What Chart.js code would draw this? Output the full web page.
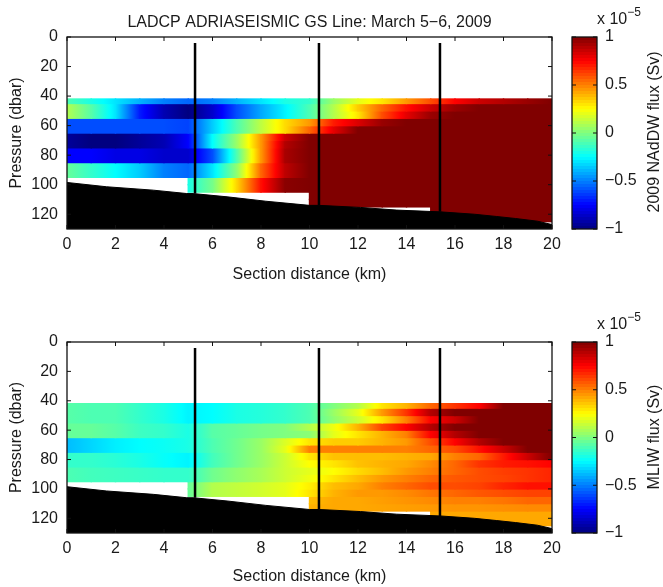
<!DOCTYPE html>
<html>
<head>
<meta charset="utf-8">
<title>LADCP ADRIASEISMIC GS Line</title>
<script src="https://cdn.jsdelivr.net/npm/chart.js@4/dist/chart.umd.min.js"></script>
<style>
  body { margin: 0; background: #fff; font-family: "Liberation Sans", sans-serif; color: #1a1a1a; }
  canvas { position: absolute; }
  .note { position: absolute; font-size: 16px; white-space: nowrap; }
  .note sup { font-size: 12px; position: relative; top: -2px; vertical-align: super; line-height: 0; }
  .side { position: absolute; font-size: 16px; white-space: nowrap; transform: translate(-50%, -50%) rotate(-90deg); }
</style>
</head>
<body>
<canvas id="topChart" width="565" height="290" style="left:0;top:0"></canvas>
<canvas id="topBar" width="103" height="290" style="left:560px;top:0"></canvas>
<canvas id="lowChart" width="565" height="282" style="left:0;top:305px"></canvas>
<canvas id="lowBar" width="103" height="282" style="left:560px;top:305px"></canvas>
<div class="note" style="left:597px;top:10px">x 10<sup>−5</sup></div>
<div class="note" style="left:597px;top:315px">x 10<sup>−5</sup></div>
<div class="side" style="left:654px;top:132px">2009 NAdDW flux (Sv)</div>
<div class="side" style="left:654px;top:437px">MLIW flux (Sv)</div>
<script>
const titleText = 'LADCP ADRIASEISMIC GS Line: March 5\u22126, 2009';

// section distance of the grid nodes (km)
const distances = [0, 1, 2, 3, 4, 5, 6, 7, 8, 9, 10, 11, 12, 13, 14, 15, 16, 17, 18, 19, 20];
// edges of the pressure bins (dbar)
const pressureEdges = [42, 45, 50, 55, 60, 65, 70, 75, 80, 85, 90, 95, 100, 105, 110, 115, 120, 125];

// flux in units of 1e-5 Sv, one line per pressure bin, one value per distance node
const _ = null;
const nadwFlux = [
  [-.1, -.2, -.3, -.4, -.5, -.55, -.5, -.4, -.3, -.2, -.15, .05, .2, .3, .45, .6, .75, .85, .9, .95, 1],
  [.1, -.08, -.3, -.7, -.9, -1, -.85, -.6, -.42, -.27, -.1, .1, .35, .55, .72, .85, .95, 1, 1, 1, 1],
  [.1, -.08, -.3, -.7, -.9, -1, -.85, -.6, -.42, -.27, -.1, .1, .3, .6, .8, .95, 1, 1, 1, 1, 1],
  [-.6, -.6, -.6, -.6, -.6, -.62, -.35, -.1, .12, .32, .45, .7, .82, .95, 1, 1, 1, 1, 1, 1, 1],
  [-.6, -.6, -.6, -.6, -.6, -.62, -.35, -.1, .12, .32, .55, .8, 1, 1, 1, 1, 1, 1, 1, 1, 1],
  [-.95, -1, -1, -.95, -.9, -.75, -.25, .05, .45, .85, 1, 1, 1, 1, 1, 1, 1, 1, 1, 1, 1],
  [-.95, -1, -1, -.95, -.9, -.75, -.25, .05, .45, .9, 1, 1, 1, 1, 1, 1, 1, 1, 1, 1, 1],
  [-.75, -.75, -.8, -.8, -.85, -.85, -.6, -.1, .45, .92, 1, 1, 1, 1, 1, 1, 1, 1, 1, 1, 1],
  [-.75, -.75, -.8, -.8, -.85, -.85, -.6, -.1, .45, .92, 1, 1, 1, 1, 1, 1, 1, 1, 1, 1, 1],
  [-.05, -.15, -.25, -.35, -.5, -.55, -.3, .03, .55, .88, 1, 1, 1, 1, 1, 1, 1, 1, 1, 1, 1],
  [-.05, -.15, -.25, -.35, -.5, -.55, -.3, .03, .55, .88, 1, 1, 1, 1, 1, 1, 1, 1, 1, 1, 1],
  [_, _, _, _, _, -.2, -.02, .33, .72, .98, 1, 1, 1, 1, 1, 1, 1, 1, 1, 1, 1],
  [_, _, _, _, _, -.2, -.02, .33, .72, .98, 1, 1, 1, 1, 1, 1, 1, 1, 1, 1, 1],
  [_, _, _, _, _, _, _, _, _, _, 1, 1, 1, 1, 1, 1, 1, 1, 1, 1, 1],
  [_, _, _, _, _, _, _, _, _, _, 1, 1, 1, 1, 1, 1, 1, 1, 1, 1, 1],
  [_, _, _, _, _, _, _, _, _, _, _, _, _, _, _, 1, 1, 1, 1, 1, 1],
  [_, _, _, _, _, _, _, _, _, _, _, _, _, _, _, 1, 1, 1, 1, 1, 1]
];
const mliwFlux = [
  [-.08, -.1, -.1, -.15, -.2, -.27, -.25, -.2, -.18, -.15, -.1, 0, .1, .3, .4, .55, .65, .75, 1, 1, 1],
  [-.08, -.1, -.1, -.15, -.2, -.27, -.25, -.2, -.18, -.15, -.1, .05, .2, .45, .65, .9, 1, 1, 1, 1, 1],
  [-.08, -.1, -.1, -.15, -.2, -.27, -.25, -.2, -.18, -.15, -.1, .03, .15, .3, .5, .75, .85, 1, 1, 1, 1],
  [-.05, -.05, -.08, -.13, -.15, -.2, -.08, -.05, -.02, 0, .1, .22, .4, .62, .75, .9, 1, 1, 1, 1, 1],
  [-.05, -.05, -.08, -.13, -.15, -.2, -.08, -.05, -.02, 0, .02, .2, .3, .4, .5, .75, .9, 1, 1, 1, 1],
  [-.38, -.33, -.28, -.25, -.23, -.2, -.1, -.03, .05, .18, .3, .35, .35, .4, .45, .6, .75, .9, 1, 1, 1],
  [-.38, -.33, -.28, -.25, -.23, -.2, -.1, -.03, .05, .2, .5, .5, .5, .5, .5, .55, .6, .72, .85, 1, 1],
  [-.15, -.15, -.17, -.2, -.24, -.27, -.12, -.03, .05, .15, .3, .37, .38, .38, .4, .42, .5, .55, .7, .85, 1],
  [-.15, -.15, -.17, -.2, -.24, -.27, -.12, -.03, .05, .15, .25, .3, .37, .4, .42, .48, .55, .65, .7, .72, .75],
  [-.1, -.12, -.13, -.14, -.15, -.15, -.03, .03, .08, .15, .2, .25, .32, .38, .45, .5, .55, .6, .63, .65, .68],
  [-.1, -.12, -.13, -.14, -.15, -.15, -.03, .03, .08, .15, .22, .3, .38, .45, .5, .55, .58, .6, .62, .65, .68],
  [_, _, _, _, _, -.05, .1, .13, .16, .2, .28, .38, .42, .5, .55, .6, .6, .62, .68, .72, .72],
  [_, _, _, _, _, -.05, .1, .13, .16, .2, .3, .4, .45, .45, .48, .52, .55, .58, .6, .62, .62],
  [_, _, _, _, _, _, _, _, _, _, .38, .42, .42, .44, .46, .48, .5, .5, .52, .55, .55],
  [_, _, _, _, _, _, _, _, _, _, .4, .42, .42, .43, .44, .45, .46, .46, .47, .48, .48],
  [_, _, _, _, _, _, _, _, _, _, _, _, _, _, _, .42, .42, .42, .42, .42, .42],
  [_, _, _, _, _, _, _, _, _, _, _, _, _, _, _, .42, .42, .42, .42, .42, .42]
];

// sea floor
const floorDistance = [0, 1.63, 3.56, 4.94, 5.2, 6.6, 8.2, 10, 10.4, 12.1, 13.6, 15.4, 16.8, 17.7, 18.5, 19.4, 20];
const floorPressure = [98.5, 101.4, 103.7, 106, 106, 108.2, 111.2, 114, 114, 115.4, 117.2, 118.4, 120, 121.5, 122.9, 124.7, 127];

// the three vertical station lines
const stationDistance = [5.28, 10.39, 15.38];
const stationTop = [4, 4, 4];
const stationBottom = [106, 114, 118.4];

const pressureTicks = { min: 0, max: 130, step: 20 };
const distanceTicks = { min: 0, max: 20, step: 2 };
const colorRange = [-1, 1];

const fontFamily = '"Liberation Sans", sans-serif';
const textColor = '#1a1a1a';

Chart.defaults.font.family = fontFamily;
Chart.defaults.color = textColor;

// matlab jet, v from -1 to 1
function jet(v) {
  const t = (Math.max(-1, Math.min(1, v)) + 1) / 2;
  const ch = function (a) { return Math.round(255 * Math.max(0, Math.min(1, a))); };
  const r = ch(Math.min(4 * t - 1.5, -4 * t + 4.5));
  const g = ch(Math.min(4 * t - 0.5, -4 * t + 3.5));
  const b = ch(Math.min(4 * t + 0.5, -4 * t + 2.5));
  return 'rgb(' + r + ',' + g + ',' + b + ')';
}

// horizontal colour ramp for one cell, going through the colormap
function cellFill(context) {
  const cell = context.raw;
  if (!cell) return 'transparent';
  const xScale = context.chart.scales.x;
  const x0 = xScale.getPixelForValue(cell.x - 0.5);
  const x1 = xScale.getPixelForValue(cell.x + 0.5);
  if (!Number.isFinite(x0) || !Number.isFinite(x1)) return 'transparent';
  const grad = context.chart.ctx.createLinearGradient(x0, 0, x1, 0);
  for (let i = 0; i <= 10; i++) {
    grad.addColorStop(i / 10, jet(cell.from + (cell.to - cell.from) * i / 10));
  }
  return grad;
}

function rowDatasets(flux) {
  return flux.map(function (row, r) {
    const cells = [];
    for (let i = 0; i < distances.length - 1; i++) {
      if (row[i] === null || row[i + 1] === null) continue;
      cells.push({
        x: (distances[i] + distances[i + 1]) / 2,
        y: [pressureEdges[r], pressureEdges[r + 1]],
        from: row[i],
        to: row[i + 1]
      });
    }
    return {
      type: 'bar', data: cells, order: 3, grouped: false,
      categoryPercentage: 1, barPercentage: 1, borderWidth: 0, inflateAmount: 0.7,
      backgroundColor: cellFill
    };
  });
}

function lineDatasets() {
  const sets = [{
    type: 'line', order: 2,
    data: floorDistance.map(function (d, i) { return { x: d, y: floorPressure[i] }; }),
    borderColor: '#000', borderWidth: 1, pointRadius: 0, tension: 0,
    backgroundColor: '#000', fill: { value: pressureTicks.max }
  }];
  stationDistance.forEach(function (d, i) {
    sets.push({
      type: 'line', order: 1,
      data: [{ x: d, y: stationTop[i] }, { x: d, y: stationBottom[i] }],
      borderColor: '#000', borderWidth: 2.5, pointRadius: 0, fill: false
    });
  });
  return sets;
}

// box with inward ticks on all sides, like the original axes
const framePlugin = {
  id: 'frame',
  afterDraw: function (chart) {
    const c = chart.ctx, a = chart.chartArea, len = 4;
    c.save();
    c.strokeStyle = '#111';
    c.lineWidth = 1.3;
    c.strokeRect(a.left, a.top, a.right - a.left, a.bottom - a.top);
    c.lineWidth = 1;
    c.beginPath();
    if (chart.scales.x.options.display) {
      chart.scales.x.ticks.forEach(function (t) {
        const px = chart.scales.x.getPixelForValue(t.value);
        c.moveTo(px, a.bottom); c.lineTo(px, a.bottom - len);
        c.moveTo(px, a.top); c.lineTo(px, a.top + len);
      });
    }
    chart.scales.y.ticks.forEach(function (t) {
      const py = chart.scales.y.getPixelForValue(t.value);
      c.moveTo(a.left, py); c.lineTo(a.left + len, py);
      c.moveTo(a.right, py); c.lineTo(a.right - len, py);
    });
    c.stroke();
    c.restore();
  }
};

function noOverhang(s) {
  s.paddingLeft = 0; s.paddingRight = 0; s.paddingTop = 0; s.paddingBottom = 0;
}

function makePanel(id, flux, title, canvasHeight, areaBottom, xTitlePad) {
  return new Chart(document.getElementById(id), {
    data: { datasets: rowDatasets(flux).concat(lineDatasets()) },
    plugins: [framePlugin],
    options: {
      responsive: false,
      animation: false,
      layout: { padding: { top: title ? 0 : 37, right: 13, left: 0, bottom: 0 } },
      plugins: {
        legend: { display: false },
        tooltip: { enabled: false },
        title: {
          display: !!title, text: title, fullSize: false,
          font: { size: 16, weight: 'normal' }, color: textColor,
          padding: { top: 13, bottom: 4.8 }
        }
      },
      scales: {
        x: {
          type: 'linear', offset: false, min: distanceTicks.min, max: distanceTicks.max,
          afterFit: function (s) { s.height = canvasHeight - areaBottom; noOverhang(s); },
          grid: { display: false, drawTicks: false }, border: { display: false },
          ticks: { stepSize: distanceTicks.step, font: { size: 16 }, padding: 6, maxRotation: 0, color: textColor },
          title: { display: true, text: 'Section distance (km)', font: { size: 16 }, padding: { top: 0, bottom: xTitlePad }, color: textColor }
        },
        y: {
          type: 'linear', reverse: true, min: pressureTicks.min, max: pressureTicks.max,
          afterFit: function (s) { s.width = 67; noOverhang(s); },
          grid: { display: false, drawTicks: false }, border: { display: false },
          ticks: { stepSize: pressureTicks.step, includeBounds: false, font: { size: 16 }, padding: 9, color: textColor },
          title: { display: true, text: 'Pressure (dbar)', font: { size: 16 }, padding: { top: 7, bottom: 0 }, color: textColor }
        }
      }
    }
  });
}

function barFill(context) {
  const yScale = context.chart.scales.y;
  if (!yScale) return 'transparent';
  const y0 = yScale.getPixelForValue(colorRange[0]);
  const y1 = yScale.getPixelForValue(colorRange[1]);
  if (!Number.isFinite(y0) || !Number.isFinite(y1)) return 'transparent';
  const grad = context.chart.ctx.createLinearGradient(0, y0, 0, y1);
  const levels = 64;
  for (let i = 0; i < levels; i++) {
    const col = jet(colorRange[0] + (colorRange[1] - colorRange[0]) * (i + 0.5) / levels);
    grad.addColorStop(i / levels, col);
    grad.addColorStop((i + 1) / levels, col);
  }
  return grad;
}

function makeColorBar(id, canvasHeight, areaBottom) {
  return new Chart(document.getElementById(id), {
    type: 'bar',
    data: {
      labels: [''],
      datasets: [{ data: [colorRange], backgroundColor: barFill, borderWidth: 0, categoryPercentage: 1, barPercentage: 1 }]
    },
    plugins: [framePlugin],
    options: {
      responsive: false,
      animation: false,
      layout: { padding: { top: 37, left: 12, right: 0, bottom: canvasHeight - areaBottom } },
      plugins: { legend: { display: false }, tooltip: { enabled: false }, title: { display: false } },
      scales: {
        x: { display: false },
        y: {
          position: 'right', min: colorRange[0], max: colorRange[1],
          afterFit: function (s) { s.width = 66; noOverhang(s); },
          grid: { display: false, drawTicks: false }, border: { display: false },
          ticks: {
            stepSize: 0.5, font: { size: 16 }, padding: 8, color: textColor,
            callback: function (v) { return String(v).replace('-', '\u2212'); }
          }
        }
      }
    }
  });
}

makePanel('topChart', nadwFlux, titleText, 290, 229, 6);
makePanel('lowChart', mliwFlux, '', 282, 228, 1);
makeColorBar('topBar', 290, 229);
makeColorBar('lowBar', 282, 228);
</script>
</body>
</html>
